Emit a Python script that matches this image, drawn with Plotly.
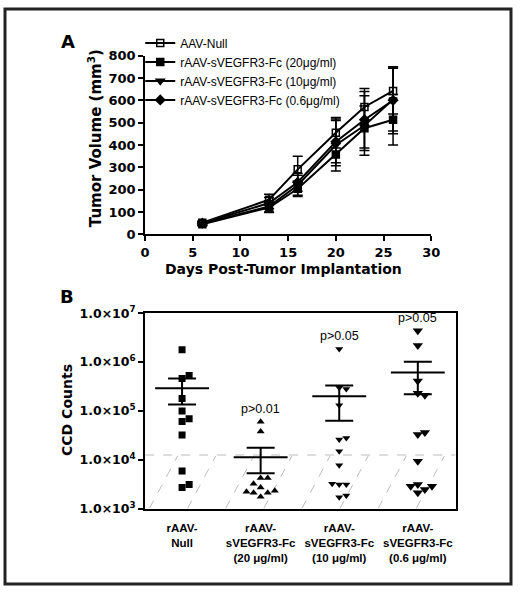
import numpy as np
import plotly.graph_objects as go

W, H = 520, 592

# panel A - tumour volume over time (mean +/- sem)
days = [6, 13, 16, 20, 23, 26]
null_vol = [52, 155, 291, 455, 570, 642]
null_sem = [8, 25, 58, 68, 83, 103]
f20_vol = [45, 120, 204, 357, 475, 513]
f20_sem = [7, 22, 35, 50, 100, 113]
f10_vol = [48, 125, 220, 400, 487, 603]
f10_sem = [7, 25, 45, 116, 133, 140]
f06_vol = [50, 140, 233, 415, 513, 600]
f06_sem = [8, 25, 40, 95, 126, 150]
growth_names = ["AAV-Null", "rAAV-sVEGFR3-Fc (20μg/ml)",
                "rAAV-sVEGFR3-Fc (10μg/ml)", "rAAV-sVEGFR3-Fc (0.6μg/ml)"]

# panel B - CCD counts per animal
group_labels = ["rAAV-<br>Null",
                "rAAV-<br>sVEGFR3-Fc<br>(20 μg/ml)",
                "rAAV-<br>sVEGFR3-Fc<br>(10 μg/ml)",
                "rAAV-<br>sVEGFR3-Fc<br>(0.6 μg/ml)"]
null_ccd = [1.8e6, 4.6e5, 5.3e5, 1.8e5, 1.0e5, 6.1e4, 6.9e4, 3.2e4, 5.9e3, 2.7e3, 3.1e3]
f20_ccd = [6.0e4, 3.8e4, 4.2e3, 4.2e3, 3.2e3, 2.7e3, 1.75e3, 2.1e3, 2.1e3, 2.3e3, 2.2e3]
f10_ccd = [1.85e6, 3.0e5, 2.8e5, 1.3e5, 2.6e4, 2.8e4, 1.5e4, 7.7e3, 3.1e3, 3.1e3, 3.2e3, 1.7e3, 1.85e3]
f06_ccd = [4.4e6, 2.2e6, 4.1e5, 2.3e5, 2.1e5, 3.3e4, 3.6e4, 9.3e3, 2.1e3, 2.45e3, 2.85e3, 3.1e3, 2.85e3]
ccd_mean = [2.9e5, 1.12e4, 2.0e5, 6.1e5]
ccd_upper = [4.6e5, 1.76e4, 3.3e5, 1.02e6]
ccd_lower = [1.35e5, 5.3e3, 6.3e4, 2.2e5]
p_labels = ["", "p>0.01", "p>0.05", "p>0.05"]
background = 1.25e4

BOLD = "DejaVu Sans"
PLAIN = "Liberation Sans, Arial"


def px_x(p):
    return p / W


def px_y(p):
    return 1 - p / H


def swarm(vals, step=0.09, gap=0.14):
    # simple beeswarm so overlapping points sit side by side
    placed = []
    offs = []
    for v in vals:
        lv = np.log10(v)
        k = 0
        for cand in [0, 1, -1, 2, -2, 3, -3]:
            if all(abs(lv - pl) >= gap or abs(cand - pk) >= 1 for pl, pk in placed):
                k = cand
                break
        placed.append((lv, k))
        offs.append(k * step)
    return offs


fig = go.Figure()

# ---- panel A ----
growth = [(null_vol, null_sem, "square-open"), (f20_vol, f20_sem, "square"),
          (f10_vol, f10_sem, "triangle-down"), (f06_vol, f06_sem, "diamond")]
for name, (vol, sem, sym) in zip(growth_names, growth):
    fig.add_trace(go.Scatter(
        x=days, y=vol, name=name, mode="lines+markers",
        line=dict(color="black", width=2),
        marker=dict(symbol=sym, size=7, color="black", line=dict(color="black", width=1.5)),
        error_y=dict(type="data", array=sem, width=5, thickness=1.5, color="black"),
        xaxis="x", yaxis="y"))

# ---- panel B ----
# hatched "background" region below the detection level
hx, hy = [], []
for k in range(8):
    x0 = -0.416 + k * 0.485
    hx += [x0, x0 + 0.36, None]
    hy += [1e3, 1.2e4, None]
fig.add_trace(go.Scatter(x=hx, y=hy, mode="lines", showlegend=False,
                         line=dict(color="#bbbbbb", width=1, dash="dash"),
                         xaxis="x2", yaxis="y2", hoverinfo="skip"))
fig.add_trace(go.Scatter(x=[-0.47, 3.48], y=[background, background], mode="lines",
                         showlegend=False, line=dict(color="#bbbbbb", width=1.2, dash="dash"),
                         xaxis="x2", yaxis="y2", hoverinfo="skip"))

ccd_groups = [(null_ccd, "square", 7), (f20_ccd, "triangle-up", 7),
              (f10_ccd, "triangle-down", 7), (f06_ccd, "triangle-down", 9)]
for i, (vals, sym, size) in enumerate(ccd_groups):
    xs = [i + o for o in swarm(vals)]
    fig.add_trace(go.Scatter(x=xs, y=vals, mode="markers", showlegend=False,
                             marker=dict(symbol=sym, size=size, color="black"),
                             xaxis="x2", yaxis="y2"))

fig.add_trace(go.Scatter(
    x=list(range(4)), y=ccd_mean, mode="markers", showlegend=False,
    marker=dict(symbol="line-ew", size=38.5, color="black", line=dict(color="black", width=2)),
    error_y=dict(type="data", symmetric=False,
                 array=[u - m for u, m in zip(ccd_upper, ccd_mean)],
                 arrayminus=[m - l for m, l in zip(ccd_mean, ccd_lower)],
                 width=14, thickness=2, color="black"),
    xaxis="x2", yaxis="y2"))

bold = lambda size, fam=BOLD: dict(family=fam, size=size, weight="bold", color="black")

annotations = [
    dict(text="A", x=px_x(64.5), y=px_y(33.5), font=bold(18)),
    dict(text="B", x=px_x(63.5), y=px_y(296.5), font=bold(18)),
    dict(text="Tumor Volume (mm<sup>3</sup>)", x=px_x(92.5), y=px_y(133),
         textangle=-90, font=bold(15)),
    dict(text="Days Post-Tumor Implantation", x=px_x(286), y=px_y(268), font=bold(14)),
    dict(text="CCD Counts", x=px_x(63.5), y=px_y(413), textangle=-90, font=bold(14)),
]
for a in annotations:
    a.update(xref="paper", yref="paper", showarrow=False, xanchor="center", yanchor="middle")

for i, (lab, (vals, _, _)) in enumerate(zip(p_labels, ccd_groups)):
    if lab:
        annotations.append(dict(text=lab, x=i, y=np.log10(max(vals)) + 0.08, xref="x2", yref="y2",
                                showarrow=False, yanchor="bottom",
                                font=dict(family=PLAIN, size=12.5, color="black")))

decades = [1e3, 1e4, 1e5, 1e6, 1e7]
axis_common = dict(showline=True, linewidth=2, linecolor="black", showgrid=False, zeroline=False)
fig.update_layout(
    width=W, height=H,
    margin=dict(l=0, r=0, t=0, b=0),
    paper_bgcolor="white", plot_bgcolor="white",
    font=dict(family=BOLD, color="black"),
    xaxis=dict(domain=[px_x(144), px_x(438)], range=[0, 30], dtick=5,
               ticks="outside", ticklen=5, tickwidth=2, tickcolor="black",
               tickfont=bold(13), **axis_common),
    yaxis=dict(domain=[px_y(232), px_y(48)], range=[0, 800], dtick=100,
               ticks="outside", ticklen=5, tickwidth=2, tickcolor="black",
               tickfont=bold(13), **axis_common),
    xaxis2=dict(domain=[px_x(144), px_x(463)], range=[-0.47, 3.48], anchor="y2",
                tickvals=list(range(4)), ticktext=group_labels, mirror=True, ticks="",
                ticklabelstandoff=8, tickfont=bold(11.5, PLAIN), **axis_common),
    yaxis2=dict(domain=[px_y(514.3), px_y(313.3)], type="log", range=[3, 7], anchor="x2",
                tickvals=decades,
                ticktext=["1.0×10<sup>%d</sup>" % int(np.log10(d)) for d in decades],
                mirror=True, ticks="outside", ticklen=5, tickwidth=2, tickcolor="black",
                tickfont=bold(12.5), **axis_common),
    legend=dict(x=px_x(139), y=px_y(20), xanchor="left", yanchor="top",
                bgcolor="rgba(0,0,0,0)", font=dict(family=PLAIN, size=12, color="black"),
                itemwidth=30, tracegroupgap=0),
    annotations=annotations,
    shapes=[dict(type="rect", xref="paper", yref="paper", x0=0, y0=0, x1=1, y1=1,
                 line=dict(color="#222222", width=3))],
)

page_fix = ("document.documentElement.style.margin='0';"
            "document.body.style.margin='0';document.body.style.overflow='hidden';"
            "var d=document.getElementById('{plot_id}');"
            "d.style.position='absolute';d.style.left='0px';d.style.top='0px';")
fig.write_html("out.html", config={"displayModeBar": False}, post_script=page_fix)
